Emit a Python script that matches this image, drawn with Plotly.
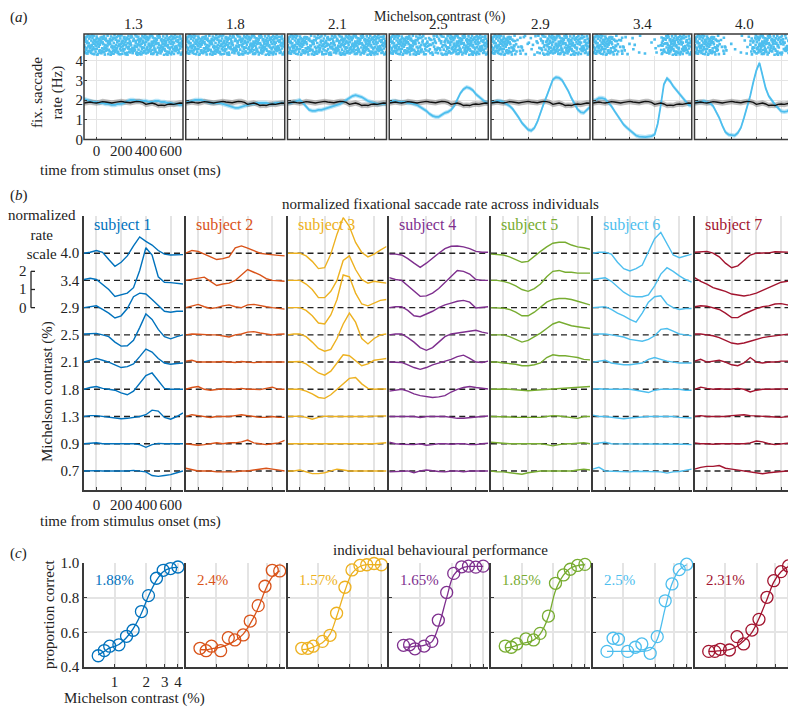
import plotly.graph_objects as go

PAGE_W, PAGE_H = 796, 707
OFF = 8  # default page body margin of the browser
W, H = PAGE_W - OFF, PAGE_H - OFF
FONT = "Liberation Serif"

# ---------------- panel (a) data ----------------
contrast_a = ["1.3", "1.8", "2.1", "2.5", "2.9", "3.4", "4.0"]
t_a = list(range(-100, 701, 25))
rate_ctrl = [1.85, 1.88, 1.9, 1.87, 1.85, 1.88, 1.92, 1.9, 1.87, 1.85, 1.88, 1.9, 1.93, 1.9, 1.88, 1.86, 1.9,
             1.93, 1.92, 1.88, 1.78, 1.8, 1.85, 1.8, 1.72, 1.74, 1.72, 1.78, 1.8, 1.78, 1.82, 1.85, 1.84]
rate_13 = [2.05, 2.0, 1.95, 1.9, 1.9, 1.85, 1.85, 1.8, 1.8, 1.75, 1.75, 1.8, 1.8, 1.85, 1.95, 2.0, 2.0,
           1.95, 1.95, 1.95, 1.95, 1.9, 1.9, 1.95, 1.95, 1.9, 1.9, 1.85, 1.85, 1.8, 1.8, 1.75, 1.75]
rate_18 = [1.9, 1.9, 1.95, 2.0, 2.0, 2.0, 1.95, 1.9, 1.85, 1.85, 1.85, 1.85, 1.8, 1.75, 1.7, 1.65, 1.6,
           1.6, 1.65, 1.7, 1.75, 1.8, 1.8, 1.85, 1.85, 1.85, 1.85, 1.8, 1.8, 1.85, 1.85, 1.85, 1.85]
rate_21 = [1.85, 1.85, 1.9, 1.95, 2.0, 1.85, 1.65, 1.5, 1.45, 1.45, 1.5, 1.5, 1.55, 1.6, 1.65, 1.7, 1.75,
           1.8, 1.9, 2.0, 2.1, 2.2, 2.25, 2.2, 2.15, 2.05, 1.95, 1.9, 1.85, 1.8, 1.8, 1.8, 1.8]
rate_25 = [1.9, 1.95, 1.95, 1.9, 1.9, 1.9, 1.85, 1.85, 1.8, 1.75, 1.65, 1.55, 1.45, 1.3, 1.2, 1.15, 1.15,
           1.25, 1.35, 1.4, 1.5, 1.7, 2.0, 2.35, 2.55, 2.65, 2.6, 2.5, 2.3, 2.15, 2.0, 1.9, 1.85]
rate_29 = [1.9, 1.9, 1.95, 1.95, 1.9, 1.8, 1.7, 1.55, 1.35, 1.1, 0.84, 0.65, 0.5, 0.45, 0.58, 0.9, 1.4,
           1.8, 2.2, 2.65, 3.04, 3.15, 3.12, 3.0, 2.73, 2.45, 2.1, 1.8, 1.52, 1.38, 1.35, 1.5, 1.65]
rate_34 = [1.95, 2.0, 2.1, 2.1, 2.05, 1.9, 1.7, 1.45, 1.2, 0.95, 0.75, 0.6, 0.45, 0.3, 0.2, 0.15, 0.12,
           0.12, 0.15, 0.17, 0.25, 0.8, 1.75, 2.8, 3.1, 2.95, 2.7, 2.5, 2.3, 2.1, 1.9, 1.75, 1.7]
rate_40 = [1.85, 1.9, 1.9, 1.95, 1.9, 1.85, 1.7, 1.4, 1.1, 0.7, 0.37, 0.25, 0.22, 0.2, 0.33, 0.6, 1.1,
           1.6, 2.2, 2.9, 3.5, 3.88, 3.2, 2.6, 2.2, 1.95, 1.77, 1.6, 1.43, 1.4, 1.43, 1.55, 1.65]
rates_a = [rate_13, rate_18, rate_21, rate_25, rate_29, rate_34, rate_40]
sem_ctrl = 0.14
sem_stim = 0.11

# relative raster density per 50-ms bin (-100..700 ms)
raster_13 = [1, 1, 1, 1, 1, 1, 1, 1, 1, 1, 1, 1, 1, 1, 1, 1]
raster_18 = [1, 1, 1, 1, 1, 1, 1, 0.95, 0.9, 0.95, 1, 1, 1, 1, 1, 1]
raster_21 = [1, 1, 1, 0.9, 0.85, 0.85, 0.9, 0.95, 1, 1, 1, 1, 1, 1, 1, 1]
raster_25 = [1, 1, 1, 1, 0.85, 0.7, 0.6, 0.6, 0.7, 0.85, 1, 1, 1, 1, 1, 1]
raster_29 = [1, 1, 1, 0.8, 0.35, 0.25, 0.2, 0.3, 0.7, 1, 1, 1, 1, 0.9, 0.85, 0.85]
raster_34 = [1, 1, 1, 0.75, 0.4, 0.2, 0.1, 0.08, 0.05, 0.05, 0.15, 0.8, 1, 1, 0.9, 0.85]
raster_40 = [1, 1, 1, 0.8, 0.3, 0.1, 0.05, 0.08, 0.2, 0.6, 1, 1, 0.9, 0.75, 0.7, 0.7]
rasters = [raster_13, raster_18, raster_21, raster_25, raster_29, raster_34, raster_40]

# ---------------- panel (b) data ----------------
contrast_b = ["0.7", "0.9", "1.3", "1.8", "2.1", "2.5", "2.9", "3.4", "4.0"]
t_b = list(range(-100, 701, 50))
subj1 = [
    [0, 0.03, 0.02, 0, 0, 0, -0.02, 0, 0.03, 0, -0.05, -0.25, -0.3, -0.25, -0.2, -0.1, 0],
    [0, 0.02, 0.05, 0, 0, -0.02, 0, -0.03, 0, -0.05, -0.2, -0.05, 0.02, 0, 0, 0, 0],
    [0, 0.05, 0.05, 0, -0.05, -0.08, -0.12, -0.1, -0.05, 0, 0.1, 0.35, 0.3, -0.05, -0.15, 0, 0.2],
    [0, 0.1, 0.15, 0.05, 0, -0.05, -0.2, -0.3, -0.1, 0.35, 0.75, 0.9, 0.45, 0.05, 0, 0, 0],
    [0, 0.1, 0.2, 0.1, 0, -0.15, -0.3, -0.25, -0.1, 0.3, 0.72, 0.55, 0.2, -0.05, -0.12, -0.08, -0.05],
    [0.05, 0.05, 0.08, 0, -0.1, -0.4, -0.62, -0.6, -0.3, 0.4, 1.15, 0.85, 0.3, -0.1, -0.22, -0.1, 0],
    [0, 0.05, 0.1, -0.1, -0.3, -0.57, -0.45, -0.05, 0.6, 0.8, 0.75, 0.45, 0.1, -0.2, -0.25, -0.2, -0.2],
    [0.05, 0.12, 0.05, -0.2, -0.5, -0.88, -0.8, -0.7, -0.4, 0.55, 1.8, 1.4, 0.2, -0.1, -0.12, -0.15, -0.2],
    [0, 0.05, 0.15, 0.05, -0.35, -0.72, -0.5, -0.15, 0.4, 0.9, 0.65, 0.45, 0.15, -0.05, -0.1, -0.1, -0.08],
]
subj2 = [
    [0.15, 0.08, 0, 0, 0, -0.05, -0.05, -0.08, -0.05, 0, 0, 0.05, 0.1, 0.15, 0.1, 0.05, 0],
    [0, -0.05, -0.08, -0.05, 0, 0.05, 0, 0.05, 0.05, 0.1, 0.2, 0.05, 0, -0.05, 0, 0.05, 0.18],
    [0, 0.1, 0.05, 0, -0.05, 0, 0, 0, 0.05, 0.1, 0.05, 0, -0.05, -0.05, 0, -0.05, -0.05],
    [0, 0.1, 0.15, 0, -0.05, 0, 0.03, 0, 0, 0.05, 0, 0, -0.02, 0.05, 0.12, 0, 0],
    [0.05, 0.1, 0, 0, -0.03, 0, 0.03, 0, -0.02, 0.03, 0, -0.03, 0, 0, -0.03, 0, 0],
    [0, 0.05, 0.03, 0, 0, 0, -0.05, -0.12, 0, 0.05, 0.15, 0.18, 0.1, 0.05, 0, 0.03, 0.05],
    [0, 0.1, 0.18, 0.05, -0.05, 0, 0.1, 0.15, 0.05, 0, 0.15, 0.18, 0.1, 0.05, 0, -0.05, -0.08],
    [0, 0.05, 0.1, 0.18, -0.05, -0.28, -0.2, -0.15, 0, 0.3, 0.6, 0.45, 0.3, 0.1, 0, -0.02, -0.05],
    [0, 0.15, 0.1, -0.05, -0.2, -0.35, -0.3, -0.2, 0.3, 0.4, 0.28, 0.15, 0, -0.05, -0.1, -0.12, -0.15],
]
subj3 = [
    [0, 0, 0.05, -0.05, -0.15, -0.15, -0.1, 0, 0.1, 0.05, 0, 0, 0, 0, 0, 0.02, 0],
    [0, 0, -0.02, 0, 0, 0, 0, 0.02, 0, 0, -0.02, 0, 0.02, 0, 0, 0.03, 0.05],
    [0, 0, 0.02, -0.05, -0.15, -0.05, 0.02, 0, 0, -0.03, 0, -0.02, 0, 0, 0.02, 0.03, 0.03],
    [0, 0, 0, -0.1, -0.25, -0.45, -0.5, -0.3, 0, 0.3, 0.6, 0.65, 0.3, 0.05, 0, 0.02, 0.02],
    [0, 0, 0.03, -0.1, -0.35, -0.6, -0.72, -0.5, -0.05, 0.4, 0.35, 0.05, -0.2, -0.1, 0.1, 0.15, 0.2],
    [0, 0.05, 0.05, -0.1, -0.4, -0.75, -0.9, -0.8, -0.2, 0.6, 1.2, 0.7, -0.2, -0.5, -0.2, 0, 0.05],
    [0, 0, 0, -0.15, -0.45, -0.85, -0.9, -0.4, 0.45, 1.8, 1.7, 0.8, 0.2, 0.1, 0.25, 0.4, 0.45],
    [0, 0.02, 0, -0.2, -0.5, -0.95, -0.95, -0.6, 0, 1.1, 1.35, 0.6, 0.05, -0.15, -0.05, -0.1, -0.15],
    [0, 0.02, 0, -0.15, -0.45, -0.85, -0.8, -0.05, 1.05, 1.96, 1.47, 0.59, 0.04, -0.2, -0.05, 0.17, 0.37],
]
subj4 = [
    [-0.05, -0.02, 0, 0, -0.1, 0, 0.05, 0, -0.03, -0.05, 0, 0, -0.05, 0, 0, -0.03, 0],
    [0.08, 0, -0.03, -0.05, -0.05, 0, -0.08, -0.05, 0, 0, -0.03, 0, 0, -0.05, -0.05, 0, 0.03],
    [0, 0, 0, -0.02, 0, -0.05, 0, 0, 0, 0, -0.05, -0.1, -0.1, -0.08, -0.05, 0, 0.03],
    [-0.1, -0.05, 0, -0.1, -0.25, -0.35, -0.42, -0.45, -0.42, -0.35, -0.15, 0, 0.1, 0.15, 0.1, 0.05, 0.02],
    [0, 0, -0.02, -0.15, -0.3, -0.4, -0.3, -0.15, -0.05, 0.05, 0.15, 0.3, 0.38, 0.2, 0, -0.02, 0.05],
    [0, 0.05, 0.05, -0.15, -0.4, -0.7, -0.85, -0.7, -0.4, -0.1, 0.05, 0.1, 0.15, 0.22, 0.25, 0.15, 0.08],
    [0, 0.05, 0.05, -0.15, -0.45, -0.5, -0.35, -0.2, 0, 0.15, 0.25, 0.35, 0.4, 0.3, -0.02, 0, 0.05],
    [0.15, 0.05, 0, -0.3, -0.6, -0.88, -0.85, -0.7, -0.45, -0.1, 0.25, 0.55, 0.5, 0.35, 0.05, 0, 0],
    [-0.05, -0.05, -0.1, -0.3, -0.55, -0.78, -0.55, -0.25, 0, 0.25, 0.38, 0.4, 0.35, 0.25, 0.1, 0.05, 0.05],
]
subj5 = [
    [0, -0.05, -0.05, -0.1, -0.12, -0.18, -0.1, -0.05, 0, 0, 0, 0.03, 0, 0, 0.05, 0.1, 0.05],
    [0.08, 0.05, 0, 0, 0, -0.02, 0, 0, 0, -0.05, -0.12, -0.05, 0, 0, 0.03, 0.05, 0],
    [0, 0, 0, -0.03, -0.05, -0.05, -0.05, -0.08, -0.05, 0, 0.05, 0.03, 0, -0.05, -0.1, 0, 0],
    [0, 0.03, 0.02, 0, -0.03, -0.05, -0.08, -0.05, -0.03, 0, 0.02, 0.05, 0.03, 0.05, 0.1, 0.12, 0.15],
    [0, 0, -0.05, -0.08, -0.12, -0.2, -0.2, -0.15, -0.05, 0.25, 0.4, 0.35, 0.35, 0.3, 0.25, 0.15, 0.12],
    [0, 0, 0, -0.1, -0.25, -0.4, -0.3, -0.1, 0.1, 0.35, 0.6, 0.72, 0.6, 0.5, 0.45, 0.4, 0.35],
    [0, 0, -0.03, -0.1, -0.25, -0.45, -0.45, -0.25, 0, 0.3, 0.45, 0.5, 0.5, 0.45, 0.35, 0.25, 0.15],
    [0, 0, -0.05, -0.15, -0.3, -0.5, -0.6, -0.45, -0.2, 0.2, 0.5, 0.55, 0.45, 0.45, 0.4, 0.4, 0.4],
    [-0.05, -0.08, -0.1, -0.2, -0.35, -0.5, -0.45, -0.15, 0.1, 0.35, 0.55, 0.6, 0.6, 0.45, 0.35, 0.3, 0.22],
]
subj6 = [
    [0.1, 0.2, 0, -0.02, -0.05, -0.03, -0.05, -0.02, -0.03, -0.05, -0.05, -0.05, -0.12, -0.05, -0.03, 0.05, 0.1],
    [0, 0.05, 0.08, 0, 0, 0, 0, 0, 0, 0, -0.03, 0, 0, 0, 0, -0.03, -0.05],
    [0.08, 0, 0, -0.05, -0.1, -0.12, -0.08, -0.05, 0, 0, 0, 0, 0, 0, -0.05, -0.08, -0.08],
    [0, 0.03, 0, 0, 0, 0, 0, -0.05, -0.1, -0.18, -0.05, 0, 0, 0, 0, -0.05, -0.05],
    [0, 0.05, 0.1, -0.05, -0.12, -0.15, -0.15, -0.12, -0.05, 0.15, 0.25, 0.15, 0.05, 0, -0.05, -0.05, -0.05],
    [0.05, 0.05, 0.05, 0, -0.05, -0.12, -0.25, -0.3, -0.35, -0.25, -0.05, 0.3, 0.35, 0.2, 0.05, 0, -0.05],
    [0, 0.03, 0.05, -0.1, -0.3, -0.45, -0.65, -0.8, -0.3, 0.3, 0.6, 0.65, 0.2, 0, -0.1, -0.05, -0.05],
    [0.05, 0.1, 0.15, -0.05, -0.35, -0.65, -0.85, -0.9, -0.9, -0.8, -0.3, 0.35, 0.7, 0.5, 0.25, 0.05, -0.1],
    [0, 0.05, 0.05, -0.05, -0.5, -0.85, -0.98, -0.85, -0.65, 0.05, 0.8, 1.15, 0.55, -0.1, -0.25, -0.15, -0.05],
]
subj7 = [
    [0.1, 0.2, 0.25, 0.25, 0.3, 0.15, 0.1, 0.05, 0, -0.05, -0.1, -0.15, -0.1, -0.05, -0.03, 0, 0.05],
    [0.05, 0, 0, -0.03, 0, 0, 0, -0.03, 0, 0.05, 0.15, 0.1, 0, -0.05, 0, 0.03, 0],
    [0, 0.05, 0, 0, 0, 0, 0.05, 0.08, 0.1, 0.05, 0.02, 0, 0, -0.03, -0.05, 0, 0],
    [0, 0.12, 0.05, 0, 0.03, 0, 0.02, 0.05, 0, -0.15, -0.05, 0, 0, 0, 0, 0.03, 0.05],
    [0.05, 0.15, 0, 0.05, 0.1, 0, -0.15, -0.2, -0.05, 0.25, 0, -0.05, 0, 0, 0.05, 0.05, 0.05],
    [0.05, 0.05, 0, -0.05, -0.15, -0.3, -0.45, -0.5, -0.45, -0.35, -0.25, -0.15, -0.1, -0.05, 0, 0.05, 0.08],
    [0.05, 0.1, 0.08, 0, -0.1, -0.3, -0.55, -0.55, -0.35, -0.2, -0.05, 0.05, 0.1, 0.2, 0.22, 0.15, 0.1],
    [0.15, -0.05, -0.2, -0.4, -0.5, -0.6, -0.75, -0.82, -0.86, -0.8, -0.7, -0.55, -0.4, -0.25, -0.1, -0.05, 0],
    [0.05, 0.08, 0.1, 0, -0.2, -0.55, -0.8, -0.7, -0.4, -0.1, 0, 0, 0.02, 0.08, 0.08, 0.05, 0.05],
]
subjects_b = [subj1, subj2, subj3, subj4, subj5, subj6, subj7]
subject_names = ["subject 1", "subject 2", "subject 3", "subject 4", "subject 5", "subject 6", "subject 7"]
row_step = 1.5

# ---------------- panel (c) data ----------------
contrast_c = [0.7, 0.8, 0.9, 1.1, 1.3, 1.5, 1.8, 2.1, 2.5, 2.9, 3.4, 4.0]
pc_s1 = [0.465, 0.495, 0.52, 0.528, 0.577, 0.612, 0.72, 0.812, 0.912, 0.958, 0.968, 0.977]
pc_s2 = [0.508, 0.494, 0.52, 0.494, 0.569, 0.556, 0.585, 0.665, 0.754, 0.866, 0.958, 0.954]
pc_s3 = [0.508, 0.508, 0.52, 0.548, 0.583, 0.71, 0.86, 0.96, 0.986, 0.99, 0.997, 0.99]
pc_s4 = [0.525, 0.528, 0.505, 0.521, 0.548, 0.67, 0.83, 0.94, 0.978, 0.982, 0.976, 0.982]
pc_s5 = [0.521, 0.514, 0.533, 0.562, 0.556, 0.594, 0.694, 0.883, 0.931, 0.964, 0.986, 0.992]
pc_s6 = [0.49, 0.566, 0.56, 0.49, 0.514, 0.533, 0.479, 0.575, 0.782, 0.879, 0.962, 0.993]
pc_s7 = [0.49, 0.49, 0.502, 0.498, 0.575, 0.533, 0.613, 0.675, 0.802, 0.898, 0.95, 0.983]
fit_s1 = [0.47, 0.49, 0.51, 0.53, 0.57, 0.62, 0.71, 0.81, 0.90, 0.95, 0.97, 0.975]
fit_s2 = [0.50, 0.50, 0.505, 0.515, 0.53, 0.55, 0.59, 0.65, 0.74, 0.84, 0.92, 0.955]
fit_s3 = [0.50, 0.505, 0.515, 0.54, 0.59, 0.69, 0.84, 0.94, 0.98, 0.99, 0.99, 0.99]
fit_s4 = [0.515, 0.515, 0.52, 0.525, 0.545, 0.63, 0.80, 0.93, 0.97, 0.98, 0.98, 0.98]
fit_s5 = [0.51, 0.515, 0.525, 0.54, 0.555, 0.59, 0.69, 0.84, 0.93, 0.97, 0.985, 0.99]
fit_s6 = [0.49, 0.49, 0.49, 0.49, 0.49, 0.49, 0.50, 0.56, 0.74, 0.88, 0.96, 0.99]
fit_s7 = [0.49, 0.49, 0.495, 0.50, 0.52, 0.55, 0.60, 0.68, 0.79, 0.89, 0.95, 0.98]
pcs = [pc_s1, pc_s2, pc_s3, pc_s4, pc_s5, pc_s6, pc_s7]
fits = [fit_s1, fit_s2, fit_s3, fit_s4, fit_s5, fit_s6, fit_s7]
thresholds = ["1.88%", "2.4%", "1.57%", "1.65%", "1.85%", "2.5%", "2.31%"]

# ---------------- styling ----------------
colors = ["#0072BD", "#D95319", "#EDB120", "#7E2F8E", "#77AC30", "#4DBEEE", "#A2142F"]
stim_color = "#4DBEEE"
grid_color = "#e4e4e4"
axis_color = "#3a3a3a"
FS = 15


def xd(px):
    # page pixel -> paper fraction
    return (px - OFF) / W


def yd(px):
    return 1 - (px - OFF) / H


COL_L = [84 + i * 101.75 for i in range(7)]
COL_W = 99


def ax(n):
    return ("xaxis" if n == 1 else f"xaxis{n}"), ("yaxis" if n == 1 else f"yaxis{n}")


def ref(n):
    return ("x" if n == 1 else f"x{n}"), ("y" if n == 1 else f"y{n}")


def halton(i, base):
    f, r = 1.0, 0.0
    while i > 0:
        f /= base
        r += f * (i % base)
        i //= base
    return r


def raster_points(density, n=380):
    # low-discrepancy layout; per-bin acceptance follows the density
    xs, ys = [], []
    for k in range(1, n + 1):
        u = halton(k, 2)
        v = halton(k, 3)
        w = halton(k, 5)
        t = t_a[0] + (t_a[-1] - t_a[0]) * u
        b = min(int((t - t_a[0]) // 50), len(density) - 1)
        if w < density[b]:
            xs.append(t)
            ys.append(0.05 + 0.9 * v)
    return xs, ys


fig = go.Figure()
layout = dict(template="none", width=W, height=H, margin=dict(l=0, r=0, t=0, b=0, autoexpand=False),
              paper_bgcolor="white", plot_bgcolor="rgba(0,0,0,0)", showlegend=False,
              font=dict(family=FONT, size=FS, color="#222"))
shapes = []
annotations = []
tickfont = dict(family=FONT, size=FS, color="#222")

for c in range(7):
    L = COL_L[c]
    dom_x = [xd(L), xd(L + COL_W)]
    # ---- panel (a) rate axes ----
    n = 1 + c
    xa, ya = ax(n)
    xr, yr = ref(n)
    layout[xa] = dict(domain=dom_x, range=[-100, 700], tickvals=[0, 200, 400, 600],
                      showticklabels=(c == 0), ticks="inside", ticklen=3, tickcolor=axis_color,
                      showgrid=True, gridcolor=grid_color, gridwidth=1.2, zeroline=False,
                      showline=False, anchor=yr, tickfont=tickfont, automargin=False)
    layout[ya] = dict(domain=[yd(139.5), yd(56)], range=[0, 4.23], tickvals=[0, 1, 2, 3, 4],
                      showticklabels=(c == 0), ticks="inside", ticklen=3, tickcolor=axis_color,
                      showgrid=True, gridcolor=grid_color, gridwidth=1.2, zeroline=False,
                      showline=False, anchor=xr, tickfont=tickfont, automargin=False)
    # raster axes
    nr = 8 + c
    xa2, ya2 = ax(nr)
    xr2, yr2 = ref(nr)
    layout[xa2] = dict(domain=dom_x, range=[-100, 700], visible=False, anchor=yr2, automargin=False)
    layout[ya2] = dict(domain=[yd(56), yd(34)], range=[0, 1], visible=False, anchor=xr2, automargin=False)
    shapes.append(dict(type="rect", xref="paper", yref="paper", x0=xd(L), x1=xd(L + COL_W),
                       y0=yd(139.5), y1=yd(34), line=dict(color=axis_color, width=1.5)))

    rx, ry = raster_points(rasters[c])
    fig.add_trace(go.Scatter(x=rx, y=ry, mode="markers", xaxis=xr2, yaxis=yr2,
                             marker=dict(size=2.6, symbol="square", color=stim_color, line=dict(width=0))))
    for vals, sem, band in [(rates_a[c], sem_stim, "rgba(77,190,238,0.40)"),
                            (rate_ctrl, sem_ctrl, "rgba(110,110,110,0.45)")]:
        fig.add_trace(go.Scatter(x=t_a, y=[v + sem for v in vals], mode="lines", xaxis=xr, yaxis=yr,
                                 line=dict(width=0), hoverinfo="skip"))
        fig.add_trace(go.Scatter(x=t_a, y=[v - sem for v in vals], mode="lines", xaxis=xr, yaxis=yr,
                                 line=dict(width=0), fill="tonexty", fillcolor=band, hoverinfo="skip"))
    fig.add_trace(go.Scatter(x=t_a, y=rates_a[c], mode="lines", xaxis=xr, yaxis=yr,
                             line=dict(color=stim_color, width=1.8)))
    fig.add_trace(go.Scatter(x=t_a, y=rate_ctrl, mode="lines", xaxis=xr, yaxis=yr,
                             line=dict(color="#111111", width=1.4)))
    annotations.append(dict(x=xd(L + COL_W / 2), y=yd(34), xref="paper", yref="paper",
                            text=contrast_a[c], showarrow=False, xanchor="center", yanchor="bottom",
                            font=dict(size=FS)))

    # ---- panel (b) ----
    n = 15 + c
    xa, ya = ax(n)
    xr, yr = ref(n)
    layout[xa] = dict(domain=dom_x, range=[-100, 700], tickvals=[0, 200, 400, 600],
                      showticklabels=(c == 0), ticks="inside", ticklen=3, tickcolor=axis_color,
                      showgrid=True, gridcolor=grid_color, gridwidth=1.5, zeroline=False,
                      showline=True, linecolor=axis_color, linewidth=1.5, anchor=yr, tickfont=tickfont,
                      automargin=False)
    layout[ya] = dict(domain=[yd(490), yd(216)], range=[-1.05, 14.05],
                      tickvals=[i * row_step for i in range(len(contrast_b))], ticktext=contrast_b,
                      showticklabels=(c == 0), ticks="", showgrid=False, zeroline=False,
                      showline=True, linecolor=axis_color, linewidth=1.5, anchor=xr, tickfont=tickfont,
                      automargin=False)
    dx, dy = [], []
    for i in range(len(contrast_b)):
        dx += [-100, 700, None]
        dy += [i * row_step, i * row_step, None]
    fig.add_trace(go.Scatter(x=dx, y=dy, mode="lines", xaxis=xr, yaxis=yr,
                             line=dict(color="#222", width=1.4, dash="6px,4px")))
    for i, dev in enumerate(subjects_b[c]):
        fig.add_trace(go.Scatter(x=t_b, y=[i * row_step + d for d in dev], mode="lines",
                                 xaxis=xr, yaxis=yr, line=dict(color=colors[c], width=1.4)))
    annotations.append(dict(x=xd(L + 8), y=yd(225), xref="paper", yref="paper",
                            text=subject_names[c], showarrow=False, xanchor="left", yanchor="middle",
                            font=dict(size=16, color=colors[c])))

    # ---- panel (c) ----
    n = 22 + c
    xa, ya = ax(n)
    xr, yr = ref(n)
    layout[xa] = dict(domain=dom_x, type="log", range=[-0.29, 0.65], tickvals=[1, 2, 3, 4],
                      ticktext=["1", "2", "3", "4"], showticklabels=(c == 0), ticks="inside",
                      ticklen=3, tickcolor=axis_color, showgrid=True, gridcolor=grid_color,
                      gridwidth=1.5, zeroline=False, showline=True, linecolor=axis_color,
                      linewidth=1.5, anchor=yr, tickfont=tickfont, automargin=False)
    layout[ya] = dict(domain=[yd(667), yd(563)], range=[0.4, 1.0], tickvals=[0.4, 0.6, 0.8, 1.0],
                      ticktext=["0.4", "0.6", "0.8", "1.0"], showticklabels=(c == 0), ticks="inside",
                      ticklen=3, tickcolor=axis_color, showgrid=True, gridcolor=grid_color,
                      gridwidth=1.5, zeroline=False, showline=True, linecolor=axis_color,
                      linewidth=1.5, anchor=xr, tickfont=tickfont, automargin=False)
    fig.add_trace(go.Scatter(x=contrast_c, y=fits[c], mode="lines", xaxis=xr, yaxis=yr,
                             line=dict(color=colors[c], width=1.3, shape="spline")))
    fig.add_trace(go.Scatter(x=contrast_c, y=pcs[c], mode="markers", xaxis=xr, yaxis=yr,
                             marker=dict(symbol="circle-open", size=12, color=colors[c],
                                         line=dict(width=1.3, color=colors[c])), cliponaxis=False))
    annotations.append(dict(x=xd(L + 9), y=yd(580), xref="paper", yref="paper",
                            text=thresholds[c], showarrow=False, xanchor="left", yanchor="middle",
                            font=dict(size=FS, color=colors[c])))

# scale bar for panel (b), anchored to the 2.9 baseline of subject 1's axis
scale_base = contrast_b.index("2.9") * row_step
shapes.append(dict(type="line", xref="paper", yref="y15", x0=xd(31), x1=xd(31),
                   y0=scale_base, y1=scale_base + 2, line=dict(color="#222", width=1.3)))
for k in range(3):
    shapes.append(dict(type="line", xref="paper", yref="y15", x0=xd(31), x1=xd(35),
                       y0=scale_base + k, y1=scale_base + k, line=dict(color="#222", width=1.3)))
    annotations.append(dict(x=xd(23), y=scale_base + k, xref="paper", yref="y15", text=str(k),
                            showarrow=False, xanchor="center", yanchor="middle", font=dict(size=FS)))

texts = [
    ("(<i>a</i>)", 9, 8, "left", "top", 0, FS),
    ("Michelson contrast (%)", 440, 8, "center", "top", 0, 14),
    ("fix. saccade<br>rate (Hz)", 48, 93, "center", "middle", -90, FS),
    ("time from stimulus onset (ms)", 130, 171, "center", "middle", 0, FS),
    ("(<i>b</i>)", 9, 196, "left", "middle", 0, FS),
    ("normalized fixational saccade rate across individuals", 440, 204, "center", "middle", 0, FS),
    ("normalized<br>rate<br>scale", 42, 234, "center", "middle", 0, FS),
    ("Michelson contrast (%)", 47, 392, "center", "middle", -90, FS),
    ("time from stimulus onset (ms)", 130, 521, "center", "middle", 0, FS),
    ("(<i>c</i>)", 9, 553, "left", "middle", 0, FS),
    ("individual behavioural performance", 440, 550, "center", "middle", 0, FS),
    ("proportion correct", 49, 614, "center", "middle", -90, FS),
    ("Michelson contrast (%)", 134, 698, "center", "middle", 0, FS),
]
for txt, x, y, anc, vanc, ang, fs in texts:
    annotations.append(dict(x=xd(x), y=yd(y), xref="paper", yref="paper", text=txt, showarrow=False,
                            xanchor=anc, yanchor=vanc, textangle=ang, font=dict(size=fs),
                            borderpad=0))

layout["shapes"] = shapes
layout["annotations"] = annotations
fig.update_layout(**layout)
fig.write_html("out.html")
